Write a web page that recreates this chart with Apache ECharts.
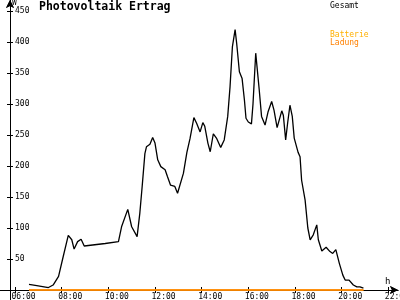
<!DOCTYPE html>
<html>
<head>
<meta charset="utf-8">
<script src="https://cdn.jsdelivr.net/npm/echarts@6/dist/echarts.min.js"></script>
<style>
html,body{margin:0;padding:0;background:#fff;}
#chart{width:400px;height:300px;}
</style>
</head>
<body>
<div id="chart"></div>
<script>
// ---- data ----
const gesamtTimes = ['06:36','06:56','07:26','07:38','07:52','08:04','08:17','08:26','08:32','08:41','08:50','08:58',
  '09:52','10:26','10:34','10:50','11:00','11:14','11:21','11:27','11:34','11:38','11:47','11:54','12:00','12:07',
  '12:15','12:26','12:32','12:40','12:51','12:58','13:13','13:22','13:30','13:40','13:47','13:56','14:03','14:08',
  '14:16','14:22','14:30','14:38','14:49','14:58','15:07','15:13','15:19','15:26','15:30','15:37','15:44','15:50',
  '15:54','16:00','16:08','16:12','16:15','16:19','16:23','16:28','16:34','16:43','16:51','17:00','17:06','17:14',
  '17:26','17:30','17:36','17:41','17:47','17:53','17:58','18:08','18:13','18:17','18:26','18:33','18:39','18:47',
  '18:56','19:00','19:09','19:20','19:30','19:37','19:45','19:54','20:03','20:09','20:19','20:30','20:39','20:47','20:56'];
const gesamtValues = [9,7,4,8,22,54,88,81,66,78,82,71,
  75,78,102,130,102,86,124,167,220,231,235,246,237,210,
  199,194,183,169,167,156,188,222,244,278,269,255,270,264,
  237,223,252,245,230,242,280,328,392,420,398,352,341,306,
  277,271,268,300,335,382,382,323,280,266,288,304,290,262,
  289,282,242,269,298,280,245,222,215,177,145,100,81,89,
  105,81,63,69,62,59,65,43,24,16,16,8,5,5,3];
const ladungTimes = ['06:36','20:56'];
const ladungValues = [0,0];
const batterieTimes = ['06:36','20:56'];
const batterieValues = [0,0];
const xTickHours = [6,8,10,12,14,16,18,20,22];
const yTickValues = [50,100,150,200,250,300,350,400,450];

function toHours(t){const p=t.split(':');return +p[0] + (+p[1])/60;}
function pairs(ts,vs){return ts.map((t,i)=>[toHours(t),vs[i]]);}
function pad2(n){return (n<10?'0':'')+n;}

const FONT = '"DejaVu Sans Mono", monospace';
const X_MIN = 6 - 15/23.333, X_MAX = X_MIN + 398/23.333;
const Y_MIN = -10/0.62, Y_MAX = 290/0.62;

function xAxisDef(inside, showLabel){
  return {
    type:'value', min:X_MIN, max:X_MAX, position:'bottom', offset:-10,
    axisLine:{show:true, onZero:false, lineStyle:{color:'#000', width:1}, symbol:['none','arrow'], symbolSize:[6,8]},
    axisTick:{show:true, inside:inside, length:3, customValues:xTickHours, lineStyle:{color:'#000'}},
    axisLabel:{show:showLabel, customValues:xTickHours, align:'left', margin:3, padding:[0,0,0,-3.5],
      hideOverlap:false, color:'#000', fontFamily:FONT, fontSize:8, formatter:v=>pad2(Math.round(v))+':00'},
    splitLine:{show:false}
  };
}
function yAxisDef(inside, showLabel){
  return {
    type:'value', min:Y_MIN, max:Y_MAX, position:'left', offset:-10,
    axisLine:{show:true, onZero:false, lineStyle:{color:'#000', width:1}, symbol:['none','arrow'], symbolSize:[6,8]},
    axisTick:{show:true, inside:inside, length:3, customValues:yTickValues, lineStyle:{color:'#000'}},
    axisLabel:{show:showLabel, inside:true, customValues:yTickValues, margin:5,
      color:'#000', fontFamily:FONT, fontSize:8},
    splitLine:{show:false}
  };
}

const chart = echarts.init(document.getElementById('chart'), null, {renderer:'canvas'});
chart.setOption({
  animation:false,
  backgroundColor:'#fff',
  grid:{left:0, right:2, top:0, bottom:0, containLabel:false, outerBoundsMode:'none'},
  title:[
    {text:'Photovoltaik Ertrag', left:39, top:1, padding:0,
      textStyle:{fontFamily:FONT, fontSize:11.5, fontWeight:'bold', color:'#000'}},
    {text:'Gesamt', left:330, top:2, padding:0, textStyle:{fontFamily:FONT, fontSize:8, fontWeight:'normal', color:'#000'}},
    {text:'Batterie', left:330, top:31, padding:0, textStyle:{fontFamily:FONT, fontSize:8, fontWeight:'normal', color:'#ffb000'}},
    {text:'Ladung', left:330, top:39, padding:0, textStyle:{fontFamily:FONT, fontSize:8, fontWeight:'normal', color:'#ff8000'}},
    {text:'W', left:12, top:-1, padding:0, textStyle:{fontFamily:FONT, fontSize:8, fontWeight:'normal', color:'#000'}},
    {text:'h', left:385, top:277, padding:0, textStyle:{fontFamily:FONT, fontSize:9, fontWeight:'normal', color:'#000'}}
  ],
  xAxis:[xAxisDef(false,true), xAxisDef(true,false)],
  yAxis:[yAxisDef(false,true), yAxisDef(true,false)],
  series:[
    {name:'Gesamt', type:'line', xAxisIndex:0, yAxisIndex:0, data:pairs(gesamtTimes,gesamtValues),
      showSymbol:false, lineStyle:{color:'#000', width:1.3}, z:3},
    {name:'Batterie', type:'line', xAxisIndex:0, yAxisIndex:0, data:pairs(batterieTimes,batterieValues),
      showSymbol:false, lineStyle:{color:'#ffb000', width:1.3}, z:4},
    {name:'Ladung', type:'line', xAxisIndex:0, yAxisIndex:0, data:pairs(ladungTimes,ladungValues),
      showSymbol:false, lineStyle:{color:'#ff8000', width:1.3}, z:5}
  ]
});
</script>
</body>
</html>
